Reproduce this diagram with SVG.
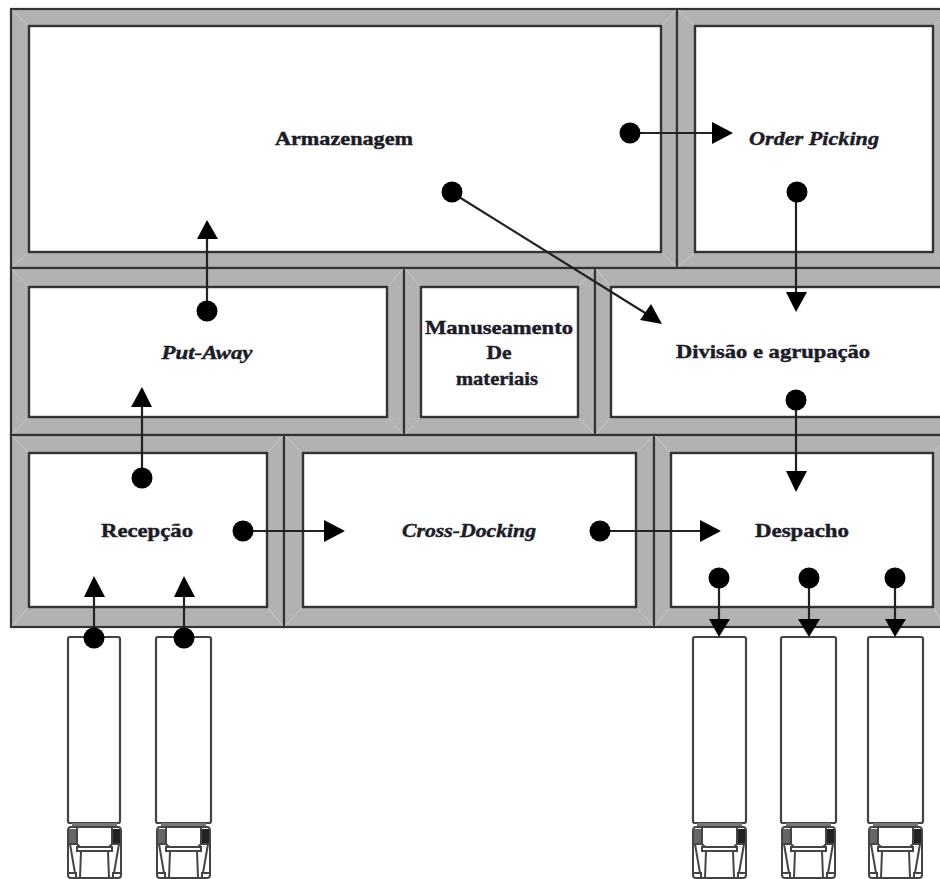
<svg xmlns="http://www.w3.org/2000/svg" width="940" height="879" viewBox="0 0 940 879">
<style>
.o{fill:#b2b2b2;stroke:#333;stroke-width:2.2}
.i{fill:#fff;stroke:#333;stroke-width:2.4}
.m{stroke:#c8c8c8;stroke-width:1;fill:none}
.t{font-family:"Liberation Serif","DejaVu Serif",serif;font-weight:700;font-size:19px;fill:#1c1c28;stroke:#1c1c28;stroke-width:.45;text-anchor:middle}
.e{font-style:italic}
.c{stroke:#222;stroke-width:2.2;fill:none}
.d{fill:#000}
.a{fill:#000}
.tr{fill:#fff;stroke:#444;stroke-width:2.2}
.cab{fill:none;stroke:#444;stroke-width:2}
</style>
<defs>
<g id="cabin">
<path d="M5 0H50V4H5Z" fill="#777"/>
<path class="cab" d="M4 4H51Q54 4 54 8V52Q54 55 51 55H4Q1 55 1 52V8Q1 4 4 4Z"/>
<path class="cab" d="M10 4V21L13 24H42L45 21V4M10 24H45V28H10ZM14 28L13 55M41 28L42 55M1 21H10M45 21H54M3 21L8 50M52 21L47 50M1 50H9V55M54 50H46V55"/>
<path d="M2 6H9V20H2Z" fill="#666"/><path d="M46 6H53V20H46Z" fill="#222"/>
</g>
</defs>
<g id="armazenagem"><rect class="o" x="11" y="9" width="666" height="259"/><rect class="i" x="29" y="26" width="632" height="226"/><path class="m" d="M12 10L28 25M676 10L662 25M12 267L28 253M676 267L662 253"/><text class="t" x="344" y="145" textLength="138" lengthAdjust="spacingAndGlyphs">Armazenagem</text></g>
<g id="order-picking"><rect class="o" x="677" y="9" width="270" height="259"/><rect class="i" x="695" y="26" width="238" height="226"/><path class="m" d="M678 10L694 25M678 267L694 253M940 19L934 25M940 260L934 253"/><text class="t e" x="814" y="145" textLength="130" lengthAdjust="spacingAndGlyphs">Order Picking</text></g>
<g id="put-away"><rect class="o" x="11" y="268" width="393" height="167"/><rect class="i" x="29" y="287" width="358" height="130"/><path class="m" d="M12 269L28 286M403 269L388 286M12 434L28 418M403 434L388 418"/><text class="t e" x="207" y="359" textLength="91" lengthAdjust="spacingAndGlyphs">Put-Away</text></g>
<g id="manuseamento"><rect class="o" x="404" y="268" width="191" height="167"/><rect class="i" x="421" y="287" width="157" height="130"/><path class="m" d="M405 269L420 286M594 269L579 286M405 434L420 418M594 434L579 418"/><text class="t" x="499" y="334" textLength="148" lengthAdjust="spacingAndGlyphs">Manuseamento</text><text class="t" x="499" y="359" textLength="25" lengthAdjust="spacingAndGlyphs">De</text><text class="t" x="497" y="385" textLength="82" lengthAdjust="spacingAndGlyphs" style="font-size:19px">materiais</text></g>
<g id="divisao"><rect class="o" x="595" y="268" width="355" height="167"/><rect class="i" x="611" y="287" width="335" height="130"/><path class="m" d="M596 269L610 286M596 434L610 418"/><text class="t" x="773" y="358" textLength="194" lengthAdjust="spacingAndGlyphs">Divisão e agrupação</text></g>
<g id="recepcao"><rect class="o" x="11" y="435" width="273" height="192"/><rect class="i" x="29" y="453" width="238" height="154"/><path class="m" d="M12 436L28 452M283 436L268 452M12 626L28 608M283 626L268 608"/><text class="t" x="147" y="537" textLength="92" lengthAdjust="spacingAndGlyphs">Recepção</text></g>
<g id="cross-docking"><rect class="o" x="284" y="435" width="370" height="192"/><rect class="i" x="303" y="453" width="333" height="154"/><path class="m" d="M285 436L302 452M653 436L637 452M285 626L302 608M653 626L637 608"/><text class="t e" x="469" y="537" textLength="134" lengthAdjust="spacingAndGlyphs">Cross-Docking</text></g>
<g id="despacho"><rect class="o" x="654" y="435" width="296" height="192"/><rect class="i" x="671" y="453" width="262" height="154"/><path class="m" d="M655 436L670 452M655 626L670 608M940 446L934 452M940 620L934 608"/><text class="t" x="802" y="537" textLength="94" lengthAdjust="spacingAndGlyphs">Despacho</text></g>
<g id="truck-1"><rect class="tr" x="68" y="637" width="52" height="186" rx="2"/><use href="#cabin" x="67" y="823"/></g>
<g id="truck-2"><rect class="tr" x="156" y="637" width="55" height="186" rx="2"/><use href="#cabin" x="156" y="823"/></g>
<g id="truck-3"><rect class="tr" x="693" y="637" width="53" height="186" rx="2"/><use href="#cabin" x="692" y="823"/></g>
<g id="truck-4"><rect class="tr" x="781" y="637" width="55" height="186" rx="2"/><use href="#cabin" x="781" y="823"/></g>
<g id="truck-5"><rect class="tr" x="868" y="637" width="55" height="186" rx="2"/><use href="#cabin" x="868" y="823"/></g>
<g id="connectors">
<path class="c" d="M630 133H715M796 192V298M451 192L650 316M207 311V230M142 478V398M243 531H332M600 531H708M796 400V478M94 638V588M184 638V588M719 578V625M809 578V625M895 578V625"/>
<circle class="d" cx="630" cy="133" r="10.5"/><path class="a" d="M712 122L733 133L712 144Z"/>
<circle class="d" cx="797" cy="192" r="10.5"/><path class="a" d="M786 292H807L796 312Z"/>
<circle class="d" cx="452" cy="192" r="10.5"/><path class="a" d="M640 320L662 324L651 304Z"/>
<circle class="d" cx="207" cy="311" r="10.5"/><path class="a" d="M197 239H218L207 220Z"/>
<circle class="d" cx="142" cy="478" r="10.5"/><path class="a" d="M131 407H152L142 387Z"/>
<circle class="d" cx="243" cy="531" r="10.5"/><path class="a" d="M324 520L345 531L324 542Z"/>
<circle class="d" cx="600" cy="531" r="10.5"/><path class="a" d="M700 520L721 531L700 542Z"/>
<circle class="d" cx="796" cy="400" r="10.5"/><path class="a" d="M786 471H807L796 492Z"/>
<circle class="d" cx="94" cy="638" r="10.5"/><path class="a" d="M84 597H105L94 576Z"/>
<circle class="d" cx="184" cy="638" r="10.5"/><path class="a" d="M174 597H195L184 576Z"/>
<circle class="d" cx="719" cy="578" r="10.5"/><path class="a" d="M709 619H730L719 637Z"/>
<circle class="d" cx="809" cy="578" r="10.5"/><path class="a" d="M798 619H820L809 637Z"/>
<circle class="d" cx="895" cy="578" r="10.5"/><path class="a" d="M885 619H906L895 637Z"/>
</g>
</svg>
